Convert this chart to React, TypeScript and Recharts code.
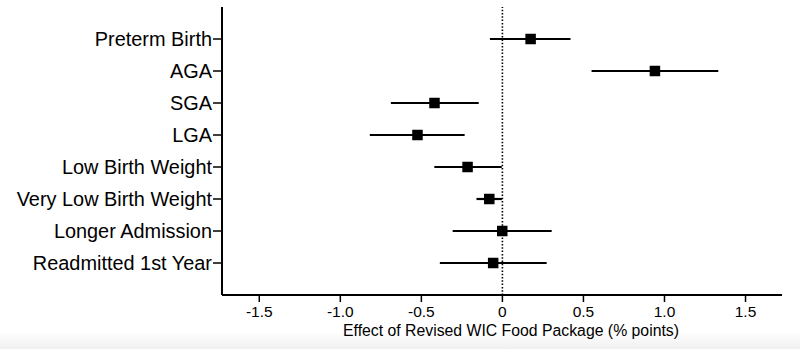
import React from 'react';
import { ScatterChart, Scatter, XAxis, YAxis, ErrorBar, ReferenceLine, Label } from 'recharts';

const categories = [
  'Preterm Birth',
  'AGA',
  'SGA',
  'LGA',
  'Low Birth Weight',
  'Very Low Birth Weight',
  'Longer Admission',
  'Readmitted 1st Year',
];
const estimates = [0.174, 0.941, -0.419, -0.524, -0.215, -0.081, -0.001, -0.057];
const lowers = [-0.077, 0.55, -0.688, -0.818, -0.42, -0.16, -0.307, -0.386];
const uppers = [0.42, 1.332, -0.146, -0.233, -0.004, -0.003, 0.304, 0.273];
const xTicks = [-1.5, -1.0, -0.5, 0, 0.5, 1.0, 1.5];
const xTickLabels = ['-1.5', '-1.0', '-0.5', '0', '0.5', '1.0', '1.5'];
const xTitle = 'Effect of Revised WIC Food Package (% points)';

const rows = categories.map((c, i) => ({
  y: i + 1,
  name: c,
  est: estimates[i],
  err: [estimates[i] - lowers[i], uppers[i] - estimates[i]],
}));

const FONT = '"Liberation Sans", Arial, sans-serif';

const SquareShape = (props: any) => {
  const { cx, cy } = props;
  if (cx == null || cy == null) return null;
  const s = 10.5;
  return <rect x={cx - s / 2} y={cy - s / 2} width={s} height={s} fill="#000" />;
};

export default function App() {
  return (
    <div
      style={{
        position: 'absolute',
        left: 0,
        top: 0,
        width: 800,
        height: 349,
        background: 'linear-gradient(to bottom, #ffffff 0px, #ffffff 332px, #f0f0f0 349px)',
      }}
    >
      <ScatterChart width={800} height={349} margin={{ top: 7, right: 18, bottom: 13, left: 0 }}>
        <XAxis
          type="number"
          dataKey="est"
          domain={[-1.73, 1.725]}
          ticks={xTicks}
          tickFormatter={(v: number) => xTickLabels[xTicks.indexOf(v)] ?? String(v)}
          allowDataOverflow
          height={41}
          axisLine={{ stroke: '#000', strokeWidth: 2 }}
          tickLine={{ stroke: '#000', strokeWidth: 1.5 }}
          tickSize={7}
          tickMargin={4}
          tick={{ fill: '#000', fontSize: 15.5, fontFamily: FONT }}
        >
          <Label
            value={xTitle}
            position="insideBottom"
            offset={0}
            dx={9}
            style={{ fill: '#000', fontSize: 15.8, fontFamily: FONT }}
          />
        </XAxis>
        <YAxis
          type="number"
          dataKey="y"
          domain={[0, 9]}
          ticks={[1, 2, 3, 4, 5, 6, 7, 8]}
          interval={0}
          reversed
          width={222}
          tickFormatter={(v: number) => categories[v - 1] ?? ''}
          axisLine={{ stroke: '#000', strokeWidth: 2 }}
          tickLine={{ stroke: '#000', strokeWidth: 1.5 }}
          tickSize={9}
          tickMargin={1}
          tick={{ fill: '#000', fontSize: 19.9, fontFamily: FONT }}
        />
        <ReferenceLine x={0} stroke="#000" strokeWidth={1.6} strokeDasharray="1.5 1.8" />
        <Scatter data={rows} isAnimationActive={false} shape={SquareShape}>
          <ErrorBar dataKey="err" direction="x" width={0} stroke="#000" strokeWidth={2.2} />
        </Scatter>
      </ScatterChart>
    </div>
  );
}
